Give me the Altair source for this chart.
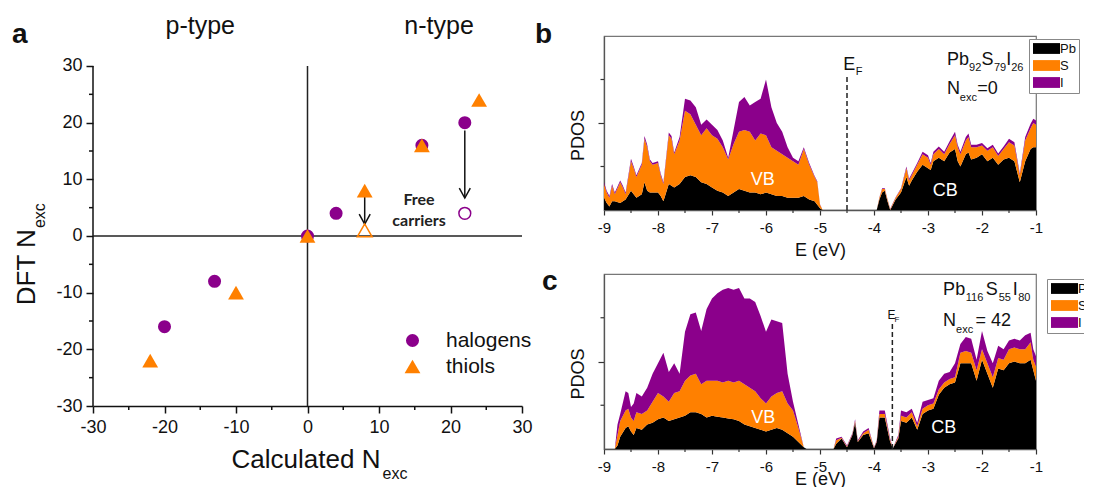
import altair as alt
import pandas as pd

PURPLE = "#8B008B"
ORANGE = "#FF8000"
FONT = "Liberation Sans"

# ---------------- panel a : DFT vs calculated N_exc ----------------
GROUPS = ["halogens", "thiols"]
hal_calc = [-20, -13, 0, 4, 16, 22]
hal_dft = [-16, -8, 0, 4, 16, 20]
thi_calc = [-22, -10, 0, 8, 16, 24]
thi_dft = [-22, -10, 0, 8, 16, 24]
free_hal_calc = [22]
free_hal_dft = [4]
free_thi_calc = [8]
free_thi_dft = [1]
arrow_calc = [8, 22]
arrow_start = [7.4, 18.6]
arrow_end = [2.1, 6.7]
a_major = [-30, -20, -10, 0, 10, 20, 30]
a_minor = [-25, -15, -5, 5, 15, 25]
a_top = 35.294          # empty band above y=30 (room for the p-type / n-type captions)

# ---------------- panel b : Pb92 S79 I26 PDOS ----------------
b_vb_E = [-9.0, -8.95, -8.9, -8.85, -8.8, -8.7, -8.65, -8.6, -8.5, -8.45, -8.4, -8.3, -8.25, -8.2, -8.15,
          -8.1, -8.0, -7.95, -7.9, -7.8, -7.75, -7.7, -7.6, -7.5, -7.4, -7.3, -7.2, -7.1, -7.0, -6.9,
          -6.8, -6.7, -6.6, -6.5, -6.4, -6.3, -6.2, -6.1, -6.0, -5.9, -5.8, -5.7, -5.6, -5.5, -5.4,
          -5.3, -5.2, -5.1, -5.05, -5.0, -4.95]
b_vb_pb = [7, 4, 2, 5, 5, 4, 5, 6, 11, 9, 7, 9, 16, 11, 10, 10, 10, 8, 5, 15, 14, 13, 15, 19, 20,
           19, 16, 15, 13, 11, 10, 8, 10, 12, 11, 10, 10, 9, 10, 9, 8, 8, 7, 7, 7, 8, 6, 5, 3, 1, 0]
b_vb_s = [8, 6, 5, 9, 4, 12, 8, 3, 17, 15, 12, 17, 25, 25, 18, 16, 17, 12, 10, 28, 27, 19, 25, 38, 35,
          30, 27, 32, 30, 30, 26, 21, 28, 33, 35, 35, 30, 35, 33, 27, 26, 24, 23, 21, 19, 27, 20, 14, 13, 2, 0]
b_vb_i = [1, 1, 1, 1, 1, 1, 1, 1, 1.5, 1, 1, 1, 1.5, 1.5, 1, 1, 1, 1, 1, 1.5, 1.5, 1, 2,
          7, 8, 10, 6, 5, 6, 5, 4, 1, 8, 17, 19, 15, 22, 20, 32, 23, 16, 13, 6, 2, 2, 1, 1, 0.5, 0.5, 0.3, 0]
b_cb_E = [-3.95, -3.9, -3.85, -3.8, -3.75, -3.7, -3.6, -3.5, -3.4, -3.35, -3.3, -3.2, -3.1, -3.0, -2.95,
          -2.9, -2.8, -2.7, -2.6, -2.5, -2.45, -2.4, -2.3, -2.25, -2.2, -2.1, -2.0, -1.9, -1.8, -1.7,
          -1.6, -1.5, -1.4, -1.3, -1.2, -1.1, -1.05, -1.0]
b_cb_pb = [0, 6, 10, 11, 5, 0, 6, 10, 19, 14, 17, 22, 26, 24, 23, 28, 30, 28, 33, 35, 28, 25, 32, 33, 29,
           30, 32, 28, 30, 26, 29, 30, 28, 16, 28, 35, 36, 36]
b_cb_s = [0, 1, 2, 1, 1, 0.5, 1, 2, 5, 3, 3, 4, 6, 6, 3, 4, 5, 4, 5, 8, 8, 7, 8, 9, 7, 6, 5, 6, 6, 5,
          6, 9, 9, 4, 12, 12, 14, 13]
b_cb_i = [0, 0.3, 0.5, 0.5, 0.3, 0.2, 0.3, 0.5, 1, 1, 1, 1, 1.5, 1.5, 1, 1.5, 1.5, 1.5, 1.5, 2, 1.5, 1.5,
          2, 2, 1.5, 1.5, 1.5, 1.5, 1.5, 1.5, 1.5, 2, 2, 1, 2, 2.5, 2.5, 2.5]
b_fermi = -4.5
b_fermi_top = 77

# ---------------- panel c : Pb116 S55 I80 PDOS ----------------
c_vb_E = [-8.8, -8.75, -8.7, -8.6, -8.55, -8.5, -8.45, -8.4, -8.3, -8.2, -8.1, -8.0, -7.9, -7.8, -7.7,
          -7.6, -7.5, -7.4, -7.3, -7.2, -7.1, -7.0, -6.9, -6.8, -6.7, -6.6, -6.5, -6.4, -6.3, -6.2,
          -6.1, -6.0, -5.9, -5.8, -5.7, -5.6, -5.5, -5.4, -5.3, -5.25]
c_vb_pb = [0, 2, 7, 12, 13, 10, 8, 12, 11, 14, 15, 17, 18, 16, 17, 18, 19, 21, 21, 20, 18, 19, 18.5, 18,
           17.5, 17, 16, 14, 13, 12, 11, 10, 11, 12, 11, 9, 7, 4, 1, 0]
c_vb_s = [0, 6, 9, 10, 10, 8, 8, 9, 9, 8, 12, 15, 12, 11, 15, 15, 20, 21, 22, 17, 21, 20, 20.5, 20, 21.5,
          21, 23, 23, 22, 21, 18, 16, 19, 20, 22, 17, 15, 8, 0, 0]
c_vb_i = [0, 6, 4, 11, 9, 6, 10, 11, 10, 13, 16, 17, 25, 17, 17, 10, 28, 35, 35, 30.5, 41, 47, 50, 53, 53,
          53, 53, 49, 51, 51, 47, 41, 44, 41, 39, 17, 5, 2, 0, 0]
c_cb_E = [-4.75, -4.7, -4.6, -4.5, -4.4, -4.35, -4.3, -4.2, -4.1, -4.0, -3.95, -3.9, -3.8, -3.7, -3.65,
          -3.55, -3.5, -3.4, -3.3, -3.2, -3.1, -3.0, -2.9, -2.8, -2.7, -2.6, -2.5, -2.4, -2.3, -2.2,
          -2.1, -2.0, -1.9, -1.8, -1.7, -1.6, -1.5, -1.4, -1.3, -1.2, -1.1, -1.05, -1.0]
c_cb_pb = [0, 3, 6, 1, 8, 15, 4, 8, 9, 0.5, 4, 18, 18, 4, 0.4, 6, 16, 15, 18, 11, 20, 22, 23, 31, 35,
           37, 38, 49, 49, 49, 39, 51, 43, 35, 46, 45, 49, 50, 49, 49, 51, 45, 39]
c_cb_s = [0, 2, 0.5, 0.5, 0.5, 1, 0.5, 1, 2, 0.2, 0.5, 2, 2, 1, 0.1, 1, 3, 3, 3, 2, 3, 3, 3, 3, 3,
          3, 3, 6, 7, 6, 6, 6, 6, 6, 6, 6, 8, 8, 8, 8, 10, 6, 8]
c_cb_i = [0, 1, 0.5, 0.5, 0.5, 1, 0.5, 1, 1, 0.3, 0.5, 2, 2, 1, 0, 1, 3, 3, 2, 2, 4, 3, 3, 5, 5,
          4, 8, 5, 8, 8, 6, 10.5, 7, 8, 7, 6, 5, 5, 5, 8, 5.5, 6, 6]
c_fermi = -3.66
c_fermi_top = 71.4

ELEMENTS = ["Pb", "S", "I"]
e_major = [-9, -8, -7, -6, -5, -4, -3, -2, -1]
e_minor = [-8.5, -7.5, -6.5, -5.5, -4.5, -3.5, -2.5, -1.5]
pdos_major = [50]
pdos_minor = [25, 75]


def stack_df(E, pb, s, i):
    rows = []
    for e, a, b, c in zip(E, pb, s, i):
        rows.append({"E": e, "v": a, "el": "Pb", "o": 0})
        rows.append({"E": e, "v": b, "el": "S", "o": 1})
        rows.append({"E": e, "v": c, "el": "I", "o": 2})
    return pd.DataFrame(rows)


one = pd.DataFrame({"k": [0]})

# ====================== panel a ======================
W_A, H_A = 429, 370
xs_a = alt.Scale(domain=[-30, 30], nice=False, zero=False)
ys_a = alt.Scale(domain=[-30, a_top], nice=False, zero=False)
axis_xa = alt.Axis(values=a_major, labelExpr="'' + datum.value", tickSize=7, labelPadding=5,
                   labelFont=FONT, labelFontSize=18, labelColor="#111",
                   labelFlush=False, labelOverlap=False, grid=False, title="",
                   domainColor="#111", tickColor="#111", domainWidth=1.5, tickWidth=1.5)
axis_ya = alt.Axis(values=a_major, labelExpr="'' + datum.value", tickSize=7, labelPadding=4,
                   labelFont=FONT, labelFontSize=18, labelColor="#111",
                   labelFlush=False, labelOverlap=False, grid=False, title="", domain=False,
                   tickColor="#111", tickWidth=1.5)
XA = alt.X("x:Q", scale=xs_a, axis=axis_xa)
YA = alt.Y("y:Q", scale=ys_a, axis=axis_ya)

pts_df = pd.DataFrame({
    "x": hal_calc + thi_calc,
    "y": hal_dft + thi_dft,
    "grp": ["halogens"] * len(hal_calc) + ["thiols"] * len(thi_calc),
})
leg_a = alt.Legend(orient="none", legendX=309, legendY=294, title=None, labelFont=FONT,
                   labelFontSize=21, labelColor="#111", symbolSize=200, symbolStrokeWidth=0,
                   labelOffset=23, rowPadding=4, padding=0)

y_line = alt.Chart(pd.DataFrame({"x": [-30], "y": [-30], "y1": [30]})).mark_rule(
    color="#111", strokeWidth=1.5).encode(x=XA, y=YA, y2="y1:Q")
zero_v = alt.Chart(pd.DataFrame({"x": [0], "y": [-30], "y1": [30]})).mark_rule(
    color="#222", strokeWidth=1.5).encode(x=XA, y=YA, y2="y1:Q")
zero_h = alt.Chart(pd.DataFrame({"y": [0]})).mark_rule(color="#222", strokeWidth=1.5).encode(y=YA)
minor_x = alt.Chart(pd.DataFrame({"x": a_minor})).mark_rule(color="#111", strokeWidth=1.5).encode(
    x=XA, y=alt.value(H_A), y2=alt.value(H_A + 4))
minor_y = alt.Chart(pd.DataFrame({"y": a_minor})).mark_rule(color="#111", strokeWidth=1.5).encode(
    y=YA, x=alt.value(0), x2=alt.value(-4))

arr_df = pd.DataFrame({"x": arrow_calc, "y": arrow_start, "y1": arrow_end})
arrows = alt.Chart(arr_df).mark_rule(color="#111", strokeWidth=1.5).encode(x=XA, y=YA, y2="y1:Q")
heads = alt.Chart(pd.DataFrame({"x": arrow_calc, "y": arrow_end})).mark_point(
    shape="M-1,-1.8L0,0L1,-1.8", filled=False, color="#111", strokeWidth=1.5, size=121, opacity=1
).encode(x=XA, y=YA)

points = alt.Chart(pts_df).mark_point(filled=True, opacity=1, strokeWidth=0).encode(
    x=XA, y=YA,
    color=alt.Color("grp:N", scale=alt.Scale(domain=GROUPS, range=[PURPLE, ORANGE]), legend=leg_a),
    shape=alt.Shape("grp:N", scale=alt.Scale(domain=GROUPS, range=["circle", "triangle-up"]), legend=leg_a),
    size=alt.Size("grp:N", scale=alt.Scale(domain=GROUPS, range=[170, 250]), legend=None),
)
open_c = alt.Chart(pd.DataFrame({"x": free_hal_calc, "y": free_hal_dft})).mark_point(
    shape="circle", filled=False, color=PURPLE, strokeWidth=1.5, size=140, opacity=1).encode(x=XA, y=YA)
open_t = alt.Chart(pd.DataFrame({"x": free_thi_calc, "y": free_thi_dft})).mark_point(
    shape="triangle-up", filled=False, color=ORANGE, strokeWidth=1.5, size=220, opacity=1).encode(x=XA, y=YA)

free_txt = alt.Chart(pd.DataFrame({"x": [15.6, 15.6], "y": [5.5, 1.8], "t": ["Free", "carriers"]})).mark_text(
    font="Lato", fontWeight="bold", fontSize=16, align="center", baseline="alphabetic", color="#222"
).encode(x=XA, y=YA, text="t:N")

type_txt = alt.Chart(pd.DataFrame({"x": [-15.0, 18.4], "t": ["p-type", "n-type"]})).mark_text(
    fontSize=25, align="center", baseline="alphabetic", color="#111", font=FONT
).encode(x=XA, y=alt.value(-2), text="t:N")

lab_a = alt.Chart(one).mark_text(text="a", fontSize=28, fontWeight="bold", align="left",
                                 baseline="alphabetic", color="#111", font=FONT).encode(
    x=alt.value(-81), y=alt.value(7))
xt_main = alt.Chart(pd.DataFrame({"x": [10.2]})).mark_text(
    text="Calculated N", fontSize=26, align="right", baseline="alphabetic", color="#111", font=FONT
).encode(x=XA, y=alt.value(432))
xt_sub = alt.Chart(pd.DataFrame({"x": [10.5]})).mark_text(
    text="exc", fontSize=16, align="left", baseline="alphabetic", color="#111", font=FONT
).encode(x=XA, y=alt.value(443))
yt_main = alt.Chart(pd.DataFrame({"y": [1.2]})).mark_text(
    text="DFT N", fontSize=26, angle=270, align="right", baseline="alphabetic", color="#111", font=FONT
).encode(x=alt.value(-58), y=YA)
yt_sub = alt.Chart(pd.DataFrame({"y": [1.4]})).mark_text(
    text="exc", fontSize=16, angle=270, align="left", baseline="alphabetic", color="#111", font=FONT
).encode(x=alt.value(-48), y=YA)
anchor = alt.Chart(one).mark_rule(opacity=0).encode(
    x=alt.value(-84), x2=alt.value(-84), y=alt.value(-27), y2=alt.value(-26))

panel_a = alt.layer(
    anchor, y_line, zero_v, zero_h, minor_x, minor_y, arrows, heads, points, open_c, open_t,
    free_txt, type_txt, lab_a, xt_main, xt_sub, yt_main, yt_sub
).properties(width=W_A, height=H_A, view=alt.ViewBackground(stroke="transparent"))


# ====================== panels b, c ======================
def pdos_panel(df, pieces, inner, fermi, fermi_top, ef_pieces, leg_xy, height, label, label_xy, title_y):
    xs = alt.Scale(domain=[-9, -1], nice=False, zero=False)
    ys = alt.Scale(domain=[0, 100], nice=False, zero=False)
    x_axis = alt.Axis(values=e_major, labelExpr="'' + datum.value", tickSize=5,
                      labelFont=FONT, labelFontSize=15, labelColor="#111", labelPadding=5,
                      labelOverlap=False, labelFlush=False, grid=False,
                      domainColor="#555", tickColor="#333", domainWidth=1.3, tickWidth=1.2,
                      title="E (eV)", titleFont=FONT, titleFontSize=18, titleFontWeight="normal",
                      titleColor="#111", titleY=title_y, titleBaseline="middle")
    y_axis = alt.Axis(values=pdos_major, labels=False, tickSize=6,
                      grid=False, domainColor="#555", tickColor="#333", domainWidth=1.3, tickWidth=1.2,
                      title="PDOS", titleFont=FONT, titleFontSize=18, titleFontWeight="normal",
                      titleColor="#111", titleX=-26, titleY=height / 2 + 12,
                      titleBaseline="middle", titleAlign="center")
    X = alt.X("E:Q", scale=xs, axis=x_axis)
    Y = alt.Y("v:Q", scale=ys, axis=y_axis)
    legend = alt.Legend(orient="none", legendX=leg_xy[0], legendY=leg_xy[1], title=None,
                        symbolType="M-2.5,-1H2.5V1H-2.5Z", symbolSize=117, symbolOffset=8,
                        symbolStrokeWidth=0,
                        labelFont=FONT, labelFontSize=13, labelColor="#111", labelOffset=7,
                        rowPadding=3, padding=3, strokeColor="#888", fillColor="white")
    area = alt.Chart(df).mark_area(interpolate="linear").encode(
        x=X,
        y=alt.Y("v:Q", scale=ys, axis=y_axis, stack="zero"),
        color=alt.Color("el:N", scale=alt.Scale(domain=ELEMENTS, range=["#000000", ORANGE, PURPLE]),
                        legend=legend),
        order=alt.Order("o:Q", sort="ascending"),
    )
    mx = alt.Chart(pd.DataFrame({"E": e_minor})).mark_rule(color="#333", strokeWidth=1.2).encode(
        x=X, y=alt.value(height), y2=alt.value(height + 3))
    my = alt.Chart(pd.DataFrame({"v": pdos_minor})).mark_rule(color="#333", strokeWidth=1.2).encode(
        y=Y, x=alt.value(0), x2=alt.value(-3.5))
    ef = alt.Chart(pd.DataFrame({"E": [fermi], "v": [0], "v1": [fermi_top]})).mark_rule(
        color="#222", strokeWidth=1.5, strokeDash=[5, 3]).encode(x=X, y=Y, y2="v1:Q")
    pieces_df = pd.DataFrame(pieces + ef_pieces, columns=["t", "E", "v", "s"])
    txt = alt.Chart(pieces_df).mark_text(align="left", baseline="alphabetic", font=FONT, color="#111").encode(
        x=X, y=Y, text="t:N", size=alt.Size("s:Q", scale=None, legend=None))
    inner_df = pd.DataFrame(inner, columns=["t", "E", "v"])
    band = alt.Chart(inner_df).mark_text(align="center", baseline="middle", font=FONT, color="white",
                                        fontSize=18).encode(x=X, y=Y, text="t:N")
    lab = alt.Chart(one).mark_text(text=label, fontSize=28, fontWeight="bold", align="left",
                                   baseline="alphabetic", color="#111", font=FONT).encode(
        x=alt.value(label_xy[0]), y=alt.value(label_xy[1]))
    return alt.layer(area, mx, my, ef, txt, band, lab).properties(
        width=432, height=height, view=alt.ViewBackground(stroke="#777", strokeWidth=1.2))


b_df = stack_df(b_vb_E + b_cb_E, b_vb_pb + b_cb_pb, b_vb_s + b_cb_s, b_vb_i + b_cb_i)
c_df = stack_df(c_vb_E + c_cb_E, c_vb_pb + c_cb_pb, c_vb_s + c_cb_s, c_vb_i + c_cb_i)

b_pieces = [("Pb", -2.65, 83.4, 18), ("92", -2.24, 79.8, 11), ("S", -2.01, 83.4, 18),
            ("79", -1.78, 79.8, 11), ("I", -1.55, 83.4, 18), ("26", -1.46, 79.8, 11),
            ("N", -2.65, 66.6, 18), ("exc", -2.41, 62.8, 11), ("=0", -2.09, 66.6, 18)]
b_ef = [("E", -4.57, 80.5, 18), ("F", -4.34, 77.5, 11)]
c_pieces = [("Pb", -2.72, 88, 18), ("116", -2.30, 84.3, 11), ("S", -1.93, 88, 18),
            ("55", -1.69, 84.3, 11), ("I", -1.43, 88, 18), ("80", -1.33, 84.3, 11),
            ("N", -2.72, 70.4, 18), ("exc", -2.48, 66.5, 11), ("= 42", -2.12, 70.4, 18)]
c_ef = [("E", -3.75, 74.3, 12), ("F", -3.62, 72.5, 8)]

panel_b = pdos_panel(b_df, b_pieces, [("VB", -6.06, 17.5), ("CB", -2.68, 11)], b_fermi, b_fermi_top,
                     b_ef, (425, 3), 174, "b", (-69, 7), 40)
panel_c = pdos_panel(c_df, c_pieces, [("VB", -6.05, 18), ("CB", -2.71, 12)], c_fermi, c_fermi_top,
                     c_ef, (443, 5), 175, "c", (-62, 16), 30)

right = alt.vconcat(panel_b, panel_c, spacing=64, bounds="flush").resolve_scale(color="independent")
chart = alt.hconcat(panel_a, right, spacing=82, bounds="flush").resolve_scale(
    color="independent", shape="independent", size="independent"
).properties(padding={"left": 0, "top": 0, "right": -15, "bottom": -2}).configure(font=FONT)

chart.save("out.html", embed_options={"renderer": "svg", "actions": False})
